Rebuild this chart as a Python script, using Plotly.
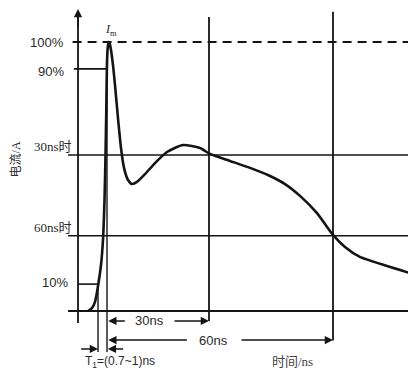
import plotly.graph_objects as go

# ---- data (time in ns, current in % of Im) ----
time_ns = [0.73, 1.69, 2.42, 3.15, 3.87, 4.35, 4.72, 4.96, 5.15, 5.32, 5.49, 5.71, 5.95,
           6.29, 6.77, 7.26, 7.98, 8.71, 9.44, 10.40, 11.37, 12.58, 14.52, 16.94, 19.84,
           23.71, 27.82, 30.24, 35.08, 39.92, 44.76, 48.39, 52.02, 56.13, 60.0, 62.9,
           66.5, 73.1, 80.1]
current_pct = [0, 1.1, 3.4, 9.3, 17.1, 26.4, 41.3, 58.0, 74.7, 92.2, 97.8, 100, 99.6,
               97.0, 91.4, 84.0, 71.7, 60.6, 53.2, 48.7, 47.2, 48.0, 50.9, 55.0, 59.1,
               61.7, 60.6, 58.4, 55.8, 53.2, 50.2, 47.2, 42.8, 36.4, 28.3, 23.8,
               20.1, 16.7, 13.4]

level_labels = ["100%", "90%", "10%"]
level_values = [100, 90, 10]
time_marks = [30, 60]               # ns
time_mark_labels = ["30ns", "60ns"]
current_at_marks = [58, 28]         # % at 30 ns and 60 ns
mark_level_labels = ["30ns时", "60ns时"]
t10 = 3.15                           # 10% crossing
t90 = 5.32                           # 90% crossing
rise_label = "T<sub>1</sub>=(0.7~1)ns"
x_title = "时间/ns"
y_title = "电流/A"
peak_label = "<i>I</i><sub>m</sub>"

INK = "#141414"
TXT = "#2a2a2a"
SANS = "Liberation Sans, Arial, sans-serif"
SERIF = "Liberation Serif, Noto Sans CJK SC, serif"

XR = [-18.63, 80.08]
YR = [-21.93, 112.64]
y_axis_t = -1.69
left_t = -4.1

fig = go.Figure()
fig.add_trace(go.Scatter(x=time_ns, y=current_pct, mode="lines",
                         line=dict(color=INK, width=2.6, shape="spline", smoothing=0.6),
                         hoverinfo="skip", showlegend=False))

shapes = []
def seg(x0, y0, x1, y1, w=1.6, dash=None):
    d = dict(type="line", x0=x0, y0=y0, x1=x1, y1=y1, xref="x", yref="y",
             line=dict(color=INK, width=w))
    if dash:
        d["line"]["dash"] = dash
    shapes.append(d)

# axes
seg(y_axis_t, -4.5, y_axis_t, 110.5, 1.8)
seg(left_t, 0, XR[1], 0, 1.8)
# 100% dashed
seg(-3.0, level_values[0], XR[1], level_values[0], 2.2, "9px,6px")
# 90% and 10% stubs
seg(-2.7, level_values[1], t90, level_values[1], 1.6)
seg(y_axis_t, level_values[2], t10, level_values[2], 1.6)
# 30ns / 60ns levels
for c in current_at_marks:
    seg(left_t, c, XR[1], c, 1.6)
# vertical markers
seg(time_marks[0], 109.3, time_marks[0], -3.7, 1.8)
seg(time_marks[1], 111.2, time_marks[1], -11.0, 1.8)
seg(t10, level_values[2], t10, -15.2, 1.4)
seg(t90, level_values[1], t90, -15.2, 1.4)

annotations = []
def arrow(xh, yh, xt, yt):
    annotations.append(dict(x=xh, y=yh, ax=xt, ay=yt, xref="x", yref="y", axref="x", ayref="y",
                            text="", showarrow=True, arrowhead=2, arrowsize=1.1,
                            arrowwidth=1.5, arrowcolor=INK))
# axis arrows
arrow(y_axis_t, 112.3, y_axis_t, 105)
arrow(XR[1] + 0.2, 0, XR[1] - 4, 0)
# 30ns
arrow(t90 + 0.3, -3.7, 10.0, -3.7)
arrow(time_marks[0], -3.7, 21.3, -3.7)
# 60ns
arrow(t90 + 0.3, -10.8, 25.0, -10.8)
arrow(time_marks[1], -10.8, 37.5, -10.8)
# T1
arrow(t10, -14.1, -1.3, -14.1)
arrow(t90 + 0.2, -14.1, 9.6, -14.1)

def txt(x, y, s, font, size, anchor="center", color=TXT, angle=0):
    annotations.append(dict(x=x, y=y, xref="x", yref="y", text=s, showarrow=False,
                            xanchor=anchor, yanchor="middle", textangle=angle,
                            font=dict(family=font, size=size, color=color)))

txt(-4.5, level_values[0], level_labels[0], SANS, 13, "right")
txt(-4.5, level_values[1] - 1.0, level_labels[1], SANS, 13, "right")
txt(-3.7, level_values[2] + 0.5, level_labels[2], SANS, 13, "right")
txt(-2.6, current_at_marks[0] + 3.0, mark_level_labels[0], SERIF, 13, "right")
txt(-2.6, current_at_marks[1] + 3.2, mark_level_labels[1], SERIF, 13, "right")
txt(15.7, -3.7, time_mark_labels[0], SANS, 13)
txt(31.0, -10.8, time_mark_labels[1], SANS, 13)
txt(8.5, -18.8, rise_label, SANS, 12)
txt(50.3, -18.8, x_title, SERIF, 13, color="#444")
txt(-16.6, 56.5, y_title, SERIF, 12, angle=-90)
txt(6.4, 104.3, peak_label, SERIF, 12)

fig.update_layout(
    width=408, height=362,
    margin=dict(l=0, r=0, t=0, b=0),
    paper_bgcolor="white", plot_bgcolor="white",
    xaxis=dict(range=XR, visible=False, fixedrange=True),
    yaxis=dict(range=YR, visible=False, fixedrange=True),
    shapes=shapes, annotations=annotations, showlegend=False,
)
fig.write_html("out.html")
